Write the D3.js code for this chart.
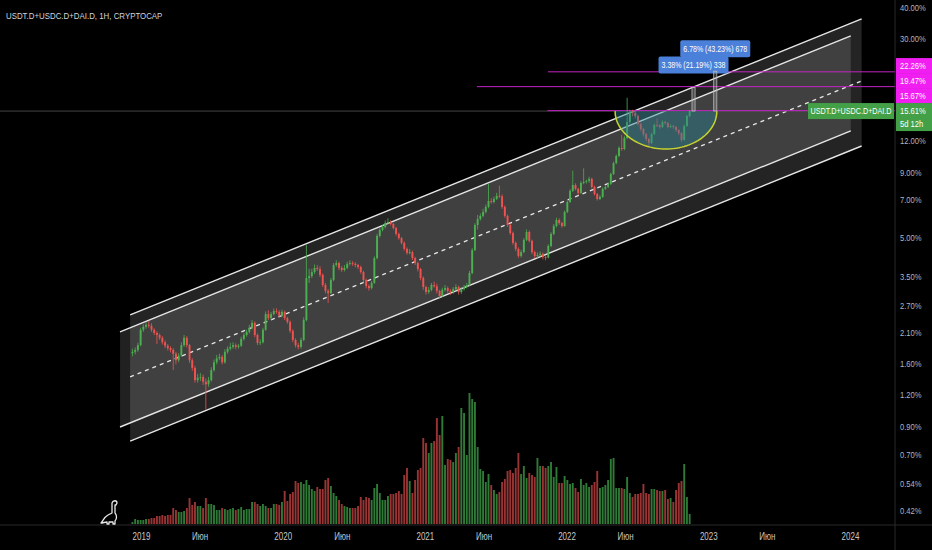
<!DOCTYPE html>
<html><head><meta charset="utf-8">
<script src="https://cdn.jsdelivr.net/npm/d3@7"></script>
<style>html,body{margin:0;padding:0;background:#000;}svg{display:block;}</style>
</head><body>
<svg id="c" width="932" height="550"></svg>
<script>
// ---------- DATA ----------
const title = "USDT.D+USDC.D+DAI.D, 1H, CRYPTOCAP";
const symbolName = "USDT.D+USDC.D+DAI.D";
const firstWeek = "2018-12-10";
const firstOpen = 1.75;
const closes = [
1.77,1.80,1.88,2.16,2.22,2.26,2.24,2.16,2.10,2.06,
2.01,1.93,1.87,1.83,1.80,1.74,1.64,1.71,1.88,2.01,
1.88,1.64,1.53,1.37,1.40,1.41,1.35,1.32,1.37,1.50,
1.61,1.67,1.69,1.61,1.77,1.82,1.85,1.88,1.85,1.87,
1.99,2.06,2.12,2.20,2.30,2.06,1.92,1.93,2.16,2.49,
2.40,2.49,2.56,2.54,2.45,2.54,2.40,2.32,2.14,1.97,
1.88,1.85,1.97,2.36,3.45,3.51,3.64,3.78,3.74,3.55,
3.24,3.07,3.01,3.39,3.88,3.95,3.78,3.71,3.78,3.92,
3.95,3.92,3.88,3.81,3.64,3.39,3.21,3.15,3.30,4.13,
5.05,5.33,5.47,5.67,5.72,5.62,5.42,5.14,4.95,4.74,
4.49,4.33,4.36,4.13,3.95,3.74,3.45,3.18,3.04,3.10,
3.24,3.20,3.07,2.93,3.10,3.15,3.07,3.04,3.12,3.18,
3.04,3.12,3.18,3.24,3.61,4.44,5.57,5.88,6.05,6.27,
6.56,6.92,6.86,7.05,7.25,7.22,6.56,6.05,5.57,5.18,
4.74,4.49,4.21,4.36,4.87,5.23,4.83,4.36,4.21,4.25,
4.29,4.17,4.15,4.61,5.14,5.52,5.83,5.67,5.52,6.27,
6.86,7.58,8.00,7.72,7.44,8.15,8.23,8.30,8.45,7.86,
7.37,7.05,7.18,7.72,7.86,8.08,8.83,9.75,10.40,11.18,
11.08,12.24,14.13,15.50,15.34,14.92,13.88,13.26,12.68,12.13,
11.70,12.68,13.76,13.70,13.51,14.13,14.01,13.51,13.63,13.51,
13.15,12.80,12.02,13.63,14.92,15.61];
const highs = [
1.82,1.84,1.92,2.20,2.27,2.31,2.34,2.29,2.19,2.13,
2.09,2.04,1.96,1.90,1.86,1.83,1.77,1.75,1.93,2.06,
2.04,1.90,1.67,1.56,1.45,1.46,1.44,1.39,1.41,1.54,
1.65,1.72,1.74,1.72,1.81,1.86,1.92,1.93,1.91,1.90,
2.03,2.10,2.16,2.26,2.36,2.33,2.09,1.98,2.20,2.55,
2.58,2.54,2.62,2.62,2.58,2.59,2.57,2.43,2.35,2.17,
2.00,1.92,2.01,2.42,4.65,3.75,3.75,3.90,3.88,3.84,
3.60,3.30,3.12,3.45,3.95,4.05,4.00,3.85,3.88,4.00,
4.05,4.02,3.98,3.92,3.86,3.68,3.43,3.26,3.36,4.20,
5.14,5.42,5.58,5.80,5.92,5.82,5.68,5.48,5.20,5.00,
4.80,4.55,4.48,4.42,4.18,4.00,3.78,3.50,3.22,3.18,
3.30,3.34,3.28,3.10,3.16,3.24,3.20,3.12,3.18,3.26,
3.22,3.18,3.24,3.30,3.68,4.52,5.66,6.10,6.18,6.45,
6.70,8.10,7.10,7.20,7.45,7.95,7.35,6.65,6.12,5.64,
5.25,4.80,4.55,4.45,4.95,5.35,5.30,4.88,4.42,4.35,
4.38,4.34,4.25,4.68,5.22,5.62,5.95,5.92,5.74,6.35,
6.95,7.70,9.10,8.12,7.80,8.28,9.30,8.40,8.62,8.55,
7.95,7.45,7.30,7.82,7.98,8.20,8.95,9.88,10.55,11.35,
12.60,12.45,17.60,15.80,15.80,15.60,15.10,14.05,13.40,12.80,
12.25,12.85,13.95,14.60,13.90,14.35,14.30,14.15,13.85,13.80,
13.65,13.25,12.90,13.80,15.10,15.75];
const lows = [
1.70,1.73,1.77,1.86,2.12,2.18,2.20,2.12,2.06,1.90,
1.97,1.89,1.83,1.79,1.76,1.50,1.58,1.61,1.69,1.85,
1.84,1.60,1.49,1.34,1.34,1.36,1.31,1.05,1.29,1.35,
1.48,1.58,1.64,1.58,1.59,1.74,1.79,1.82,1.81,1.82,
1.85,1.96,2.03,2.09,2.17,2.02,1.88,1.88,1.91,2.14,
2.36,2.36,2.46,2.50,2.41,2.42,2.36,2.28,2.10,1.93,
1.84,1.81,1.82,1.95,2.33,3.30,3.45,3.58,3.68,3.48,
3.18,3.00,2.75,2.98,3.35,3.82,3.70,3.64,3.66,3.74,
3.86,3.85,3.80,3.74,3.58,3.32,3.14,3.08,3.11,3.27,
4.08,4.98,5.26,5.40,5.62,5.55,5.35,5.06,4.88,4.67,
4.42,4.26,4.27,4.06,3.88,3.66,3.38,3.10,2.97,2.99,
3.06,3.16,3.00,2.86,2.90,3.05,3.01,2.96,2.99,3.08,
2.97,2.99,3.08,3.14,3.20,3.57,4.40,5.35,5.80,5.98,
6.18,6.48,6.75,6.78,6.98,7.12,6.45,5.95,5.48,5.10,
4.66,4.40,4.14,4.15,4.32,4.82,4.76,4.28,4.13,4.12,
4.18,4.08,4.05,4.12,4.56,5.08,5.45,5.58,5.44,5.48,
6.20,6.80,7.50,7.62,7.30,7.38,8.05,8.10,8.15,7.75,
7.28,6.95,6.98,7.12,7.65,7.78,8.00,8.75,9.65,10.30,
10.90,10.95,12.10,13.90,14.90,14.60,13.70,13.05,12.40,11.90,
11.30,11.60,12.55,13.50,13.30,13.40,13.80,13.35,13.40,13.30,
12.95,12.55,11.80,11.95,13.55,14.80];
const volumes = [
2,5,4,4,4,5,5,6,6,8,
8,9,8,9,9,16,14,12,12,13,
16,26,19,22,18,18,16,26,20,20,
19,14,14,16,15,14,15,16,14,15,
17,14,15,15,22,22,20,18,20,18,
16,16,20,20,19,22,33,23,30,32,
43,41,42,40,44,39,35,33,37,35,
35,44,46,38,31,28,24,20,18,17,
16,16,16,18,27,24,27,26,24,36,
40,31,24,24,28,30,30,31,33,30,
49,56,43,31,44,54,56,86,81,71,
81,83,106,89,108,59,65,64,62,71,
77,116,111,69,131,125,122,77,55,53,
42,50,39,34,30,32,42,45,53,54,
51,56,71,50,58,46,51,49,47,66,
58,58,56,58,62,47,57,41,41,48,
44,40,41,36,32,45,39,41,37,39,
42,53,36,37,39,44,65,66,36,36,
36,35,47,31,27,30,30,31,40,31,
30,35,35,34,33,33,34,25,26,22,
34,41,43,60,27,10];
const priceTicks = [40,30,12,9,7,5,3.5,2.7,2.1,1.6,1.2,0.9,0.7,0.54,0.42];
const timeTicks = ["2019-01-01","2019-06-01","2020-01-01","2020-06-01","2021-01-01","2021-06-01","2022-01-01","2022-06-01","2023-01-01","2023-06-01","2024-01-01"];
const monthLabel = "Июн";
// horizontal levels
const levelValues = [22.26, 19.47, 15.67];
const levelStarts = ["2021-11-14","2021-05-15","2021-11-13"];
const lastPrice = 15.61;
const countdown = "5d 12h";
// parallel channels
const outerDates = ["2018-12-04","2024-01-31"];
const outerUpper = [2.47, 35.9];
const outerLower = [0.79, 11.38];
const innerDates = ["2018-11-08","2024-01-03"];
const innerUpper = [2.12, 30.8];
const innerLower = [0.897, 13.04];
const midDates = ["2018-12-04","2024-01-31"];
const midValues = [1.41, 20.5];
// price range tools
const rangeFrom = ["2022-11-20","2023-01-15"];
const rangeTo = ["2022-11-28","2023-01-23"];
const rangeLow = [15.61, 15.61];
const rangeHigh = [19.3, 22.39];
const rangeText = ["3.38% (21.19%) 338","6.78% (43.23%) 678"];
// cup arc
const cupDates = ["2022-05-06","2023-01-23"];
const cupRim = 15.6;
const cupBottom = 11.08;

// ---------- LAYOUT ----------
const W = 932, H = 550, axisX = 895, axisY = 525;
const FONT = "'Liberation Sans',Arial,sans-serif";
const K = 0.8; // horizontal condensing of text
const up = "#4caf50", down = "#ef5350";
const volUp = "#2e7a36", volDown = "#9a3434";
const P = d3.utcParse("%Y-%m-%d");

function squeeze(sel, k) {
  sel.each(function () {
    const t = d3.select(this);
    const xx = +t.attr("x") || 0;
    t.attr("x", xx / k).attr("transform", `scale(${k},1)`);
  });
}

const x = d3.scaleUtc().domain([P("2019-01-01"), P("2024-01-01")]).range([141, 850]);
const y = d3.scaleLog().domain([0.42, 40]).range([510.9, 7.0]);
const vy = d3.scaleLinear().domain([0, d3.max(volumes)]).range([524, 393]);

const start = P(firstWeek);
const bars = closes.map((c, i) => {
  const o = i === 0 ? firstOpen : closes[i - 1];
  return {d: d3.utcWeek.offset(start, i), o, c,
          h: Math.max(highs[i], o, c), l: Math.min(lows[i], o, c), v: volumes[i]};
});

const svg = d3.select("#c");
svg.append("rect").attr("width", W).attr("height", H).attr("fill", "#000");
svg.append("defs").append("clipPath").attr("id", "plot")
  .append("rect").attr("x", 0).attr("y", 0).attr("width", axisX).attr("height", axisY);
const g = svg.append("g").attr("clip-path", "url(#plot)");

// channels
function band(dates, upper, lower) {
  const d0 = P(dates[0]), d1 = P(dates[1]);
  return [[x(d0), y(upper[0])], [x(d1), y(upper[1])], [x(d1), y(lower[1])], [x(d0), y(lower[0])]];
}
const outer = band(outerDates, outerUpper, outerLower);
const inner = band(innerDates, innerUpper, innerLower);
g.append("polygon").attr("points", outer.join(" ")).attr("fill", "rgba(255,255,255,0.14)");
g.append("polygon").attr("points", inner.join(" ")).attr("fill", "rgba(255,255,255,0.13)");
[[outer[0], outer[1]], [outer[3], outer[2]], [inner[0], inner[1]], [inner[3], inner[2]]].forEach(s => {
  g.append("line").attr("x1", s[0][0]).attr("y1", s[0][1]).attr("x2", s[1][0]).attr("y2", s[1][1])
    .attr("stroke", "#e6e6e6").attr("stroke-width", 1.4);
});
g.append("line")
  .attr("x1", x(P(midDates[0]))).attr("y1", y(midValues[0]))
  .attr("x2", x(P(midDates[1]))).attr("y2", y(midValues[1]))
  .attr("stroke", "#e6e6e6").attr("stroke-width", 1.3).attr("stroke-dasharray", "4,4");

// last price line
g.append("line").attr("x1", 0).attr("x2", axisX).attr("y1", y(lastPrice)).attr("y2", y(lastPrice))
  .attr("stroke", "#555").attr("stroke-width", 0.8);

// levels
levelValues.forEach((v, i) => {
  g.append("line").attr("x1", x(P(levelStarts[i]))).attr("x2", axisX)
    .attr("y1", y(v)).attr("y2", y(v)).attr("stroke", "#c423c4").attr("stroke-width", 1);
});

// volume
const bw = 1.9;
g.append("g").selectAll("rect").data(bars).join("rect")
  .attr("x", d => x(d.d) - bw / 2).attr("width", bw)
  .attr("y", d => vy(d.v)).attr("height", d => vy(0) - vy(d.v))
  .attr("fill", d => d.c >= d.o ? volUp : volDown);

// candles
const cg = g.append("g");
cg.selectAll("line").data(bars).join("line")
  .attr("x1", d => x(d.d)).attr("x2", d => x(d.d))
  .attr("y1", d => y(d.h)).attr("y2", d => y(d.l))
  .attr("stroke", d => d.c >= d.o ? up : down).attr("stroke-width", 0.8);
cg.selectAll("rect").data(bars).join("rect")
  .attr("x", d => x(d.d) - bw / 2).attr("width", bw)
  .attr("y", d => y(Math.max(d.o, d.c)))
  .attr("height", d => Math.max(0.8, Math.abs(y(d.o) - y(d.c))))
  .attr("fill", d => d.c >= d.o ? up : down);

// cup
const cx0 = x(P(cupDates[0])), cx1 = x(P(cupDates[1]));
const ccx = (cx0 + cx1) / 2, rx = (cx1 - cx0) / 2, rimY = y(cupRim), ry = y(cupBottom) - rimY;
const arcPts = d3.range(0, 61).map(k => {
  const t = Math.PI * k / 60;
  return [ccx - rx * Math.cos(t), rimY + ry * Math.sin(t)];
});
g.append("path").attr("d", d3.line()(arcPts) + "Z").attr("fill", "rgba(40,130,150,0.42)");
g.append("path").attr("d", d3.line()(arcPts)).attr("fill", "none")
  .attr("stroke", "#c5d32e").attr("stroke-width", 1.5);

// price ranges
rangeText.forEach((t, i) => {
  const xa = x(P(rangeFrom[i])), xb = x(P(rangeTo[i]));
  const yt = y(rangeHigh[i]), yb = y(rangeLow[i]);
  g.append("rect").attr("x", xa).attr("y", yt).attr("width", xb - xa).attr("height", yb - yt)
    .attr("fill", "rgba(200,200,200,0.25)").attr("stroke", "#b8b8b8").attr("stroke-width", 0.8);
  const cxm = (xa + xb) / 2, bwid = 70, bh = 17, by = yt - 14 - bh;
  g.append("rect").attr("x", cxm - bwid / 2).attr("y", by).attr("width", bwid).attr("height", bh)
    .attr("rx", 2).attr("fill", "#4a80d9");
  g.append("text").attr("x", cxm).attr("y", by + bh / 2).attr("dy", "0.35em")
    .attr("text-anchor", "middle").attr("fill", "#fff")
    .style("font", "9px " + FONT).text(t).call(squeeze, 0.78);
});

// symbol label on chart
const lpY = y(lastPrice);
g.append("rect").attr("x", 808).attr("y", lpY - 8).attr("width", 86).attr("height", 16).attr("fill", "#43a047");
g.append("text").attr("x", 851).attr("y", lpY).attr("dy", "0.35em").attr("text-anchor", "middle")
  .attr("fill", "#fff").style("font", "9px " + FONT).text(symbolName).call(squeeze, 0.8);

// axes lines
svg.append("line").attr("x1", axisX).attr("x2", axisX).attr("y1", 0).attr("y2", H).attr("stroke", "#2b2b2b");
svg.append("line").attr("x1", 0).attr("x2", W).attr("y1", axisY).attr("y2", axisY).attr("stroke", "#2b2b2b");

// y axis
const ya = svg.append("g").attr("transform", `translate(${axisX},0)`)
  .call(d3.axisRight(y).tickValues(priceTicks).tickSize(0).tickPadding(5).tickFormat(d => d.toFixed(2) + "%"));
ya.select(".domain").remove();
ya.selectAll("text").attr("fill", "#b2b5be").style("font", "9.5px " + FONT).call(squeeze, K);

// x axis
const xa = svg.append("g").attr("transform", `translate(0,${axisY})`)
  .call(d3.axisBottom(x).tickValues(timeTicks.map(P)).tickSize(0).tickPadding(8)
    .tickFormat(d => d.getUTCMonth() === 0 ? d.getUTCFullYear() : monthLabel));
xa.select(".domain").remove();
xa.selectAll("text").attr("fill", "#c8c8c8").style("font", "10px " + FONT).call(squeeze, K);

// right-side price labels (stacked)
const labels = [[levelValues[0], 45], [levelValues[1], 30], [levelValues[2], 15]];
labels.forEach(([v, off]) => {
  const cy = lpY - off;
  svg.append("rect").attr("x", axisX + 1).attr("y", cy - 8).attr("width", W - axisX).attr("height", 15.5).attr("fill", "#f01ef0");
  svg.append("text").attr("x", axisX + 5).attr("y", cy).attr("dy", "0.35em").attr("fill", "#fff")
    .style("font", "9.5px " + FONT).text(v.toFixed(2) + "%").call(squeeze, K);
});
svg.append("rect").attr("x", axisX + 1).attr("y", lpY - 8).attr("width", W - axisX).attr("height", 28).attr("fill", "#43a047");
svg.append("text").attr("x", axisX + 5).attr("y", lpY).attr("dy", "0.35em").attr("fill", "#fff")
  .style("font", "9.5px " + FONT).text(lastPrice.toFixed(2) + "%").call(squeeze, K);
svg.append("text").attr("x", axisX + 5).attr("y", lpY + 13).attr("dy", "0.35em").attr("fill", "#fff")
  .style("font", "9.5px " + FONT).text(countdown).call(squeeze, K);

// title
svg.append("text").attr("x", 6).attr("y", 19).attr("fill", "#d1d4dc")
  .style("font", "9.5px " + FONT).text(title).call(squeeze, 0.83);

// logo
svg.append("path").attr("transform", "translate(101,500)")
  .attr("d", "M11 3 C12 0,16 0,16 3 L15 5 L14 5 L14 13 C16 15,16 19,14 21 L14 24 L12 24 L12 22 L8 22 L8 24 L6 24 L6 22 C4 22,2 23,0 23 C2 21,3 17,7 15 L11 13 Z")
  .attr("fill", "none").attr("stroke", "#e8e8e8").attr("stroke-width", 1.3).attr("stroke-linejoin", "round");
</script>
</body></html>
